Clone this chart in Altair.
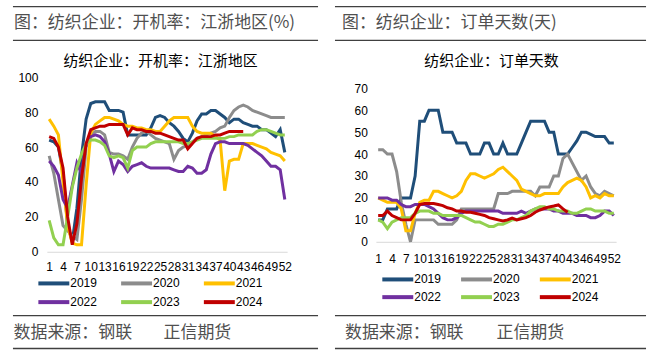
import altair as alt
import pandas as pd

years = ["2019", "2020", "2021", "2022", "2023", "2024"]
colors = ["#1F4E79", "#8C8C8C", "#FFC000", "#7030A0", "#92D050", "#C00000"]
x_tick_values = list(range(1, 53, 3))

# 开机率：江浙地区 (%)
rate_2019 = [64, 63, 60, 45, 15, 6, 25, 55, 76, 85, 86, 86, 86, 81, 81, 81, 80, 67, 67, 67,
             67, 67, 71, 77, 78, 77, 74, 72, 69, 65, 63, 68, 75, 79, 79, 81, 81, 79, 77, 74,
             76, 76, 74, 73, 72, 72, 70, 70, 68, 66, 70, 57]
rate_2020 = [55, 45, 30, 15, 12, 9, 7, 30, 60, 67, 69, 69, 67, 57, 56, 56, 55, 53, 60, 65,
             68, 69, 67, 65, 64, 63, 62, 53, 58, 60, 61, 63, 65, 66, 67, 68, 69, 71, 72, 77,
             81, 83, 84, 83, 81, 80, 79, 78, 77, 77, 77, 77]
rate_2021 = [76, 72, 67, 40, 15, 5, 4, 4, 38, 68, 73, 75, 77, 77, 76, 75, 73, 72, 72, 71,
             71, 70, 70, 69, 69, 72, 75, 77, 77, 77, 77, 72, 69, 68, 68, 68, 66, 64, 35, 52,
             53, 53, 62, 62, 62, 61, 60, 59, 57, 56, 55, 52]
rate_2022 = [52, 49, 44, 30, 25, 38, 51, 45, 62, 66, 67, 66, 63, 56, 46, 52, 50, 46, 49, 50,
             51, 49, 48, 48, 48, 48, 48, 47, 46, 46, 49, 48, 45, 45, 47, 56, 62, 63, 63, 62,
             62, 62, 62, 61, 59, 57, 55, 52, 49, 49, 47, 30]
rate_2023 = [18, 8, 4, 4, 20, 37, 48, 56, 62, 64, 64, 63, 61, 55, 54, 55, 54, 48, 58, 60,
             60, 60, 62, 63, 63, 63, 63, 63, 63, 62, 62, 63, 64, 65, 65, 65, 65, 65, 65, 66,
             66, 67, 67, 67, 67, 69, 70, 70, 69, 68, 67, 67]
rate_2024 = [66, 65, 60, 48, 20, 4, 16, 42, 62, 70, 71, 72, 72, 73, 73, 73, 73, 67, 71, 70,
             70, 69, 69, 68, 68, 67, 66, 65, 64, 64, 59, 62, 65, 66, 66, 66, 67, 67, 68, 69,
             69, 69, 69]

# 订单天数 (天)
ord_2019 = [10, 10, 15, 15, 15, 20, 20, 20, 30, 55, 55, 60, 60, 60, 50, 50, 50, 45, 45, 45,
            40, 40, 40, 45, 45, 40, 40, 45, 40, 40, 40, 45, 50, 55, 55, 55, 55, 50, 50, 40,
            40, 40, 43, 46, 50, 50, 49, 48, 48, 48, 45, 45]
ord_2020 = [42, 42, 40, 40, 32, 18, 8, 0, 10, 10, 10, 10, 10, 8, 8, 8, 8, 10, 15, 15,
            15, 15, 15, 15, 15, 15, 22, 22, 22, 23, 23, 23, 23, 23, 21, 25, 25, 25, 30, 30,
            38, 40, 36, 32, 28, 30, 25, 22, 21, 23, 22, 21]
ord_2021 = [20, 19, 18, 18, 18, 15, 5, 5, 13, 18, 19, 19, 23, 23, 22, 21, 20, 21, 23, 28,
            31, 31, 30, 29, 30, 31, 33, 34, 32, 30, 28, 24, 23, 22, 21, 21, 22, 22, 22, 22,
            25, 27, 28, 29, 28, 25, 20, 21, 20, 22, 21, 21]
ord_2022 = [20, 20, 20, 19, 19, 17, 16, 16, 17, 17, 17, 16, 15, 13, 11, 10, 10, 11, 13, 14,
            14, 14, 14, 14, 14, 14, 14, 13, 13, 13, 13, 14, 13, 14, 15, 15, 15, 15, 14, 14,
            13, 13, 13, 12, 12, 12, 11, 11, 12, 14, 14, 12]
ord_2023 = [10, 9, 6, 9, 10, 11, 11, 11, 13, 14, 14, 14, 13, 13, 12, 12, 12, 12, 12, 11,
            10, 9, 9, 8, 7, 7, 8, 8, 9, 10, 10, 11, 12, 14, 15, 16, 16, 15, 15, 14,
            14, 14, 13, 13, 14, 15, 15, 14, 14, 14, 13, 13]
ord_2024 = [12, 12, 14, 12, 11, 10, 10, 10, 13, 17, 17.5, 17.5, 17.5, 17, 16.5, 15.5, 15, 14, 14, 13.5,
            13.5, 13, 12.5, 12, 11, 10.5, 10, 9.5, 10, 10.8, 10, 10.5, 11, 12, 13.5, 14.5, 15.3, 15.9, 16.3, 16.8,
            15, 13.5]

left_title = "纺织企业：开机率：江浙地区"
left_header = "图：纺织企业：开机率：江浙地区(%)"
right_title = "纺织企业：订单天数"
right_header = "图：纺织企业：订单天数(天)"
source_text = "数据来源：钢联"
company_text = "正信期货"

CJK = "Noto Sans CJK SC"
NUM = "Liberation Sans"
one = pd.DataFrame({"k": [0]})


def long_df(series):
    rows = []
    for yr, vals in zip(years, series):
        for i, v in enumerate(vals):
            rows.append({"week": i + 1, "year": yr, "value": v})
    return pd.DataFrame(rows)


def hrule(x1, x2, y):
    return alt.Chart(one).mark_rule(color="#404040", strokeWidth=1.3).encode(
        x=alt.value(x1), x2=alt.value(x2), y=alt.value(y))


def label(s, x, y, size, color, align="left"):
    return alt.Chart(one).mark_text(text=s, align=align, baseline="middle", font=CJK,
                                    fontSize=size, color=color).encode(
        x=alt.value(x), y=alt.value(y))


def panel(df, ox, height, y_domain, y_values, title, header, title_cx, header_x,
          rule_x1, rule_x2, src_x, co_x, legend_x, legend_y, col_pad, row_pad,
          x_pad, y_pad, extra=None):
    oy = 76
    lines = alt.Chart(df).mark_line(strokeWidth=3).encode(
        x=alt.X("week:Q", scale=alt.Scale(domain=[0.5, 52.5], nice=False, zero=False),
                axis=alt.Axis(values=x_tick_values, title=None, grid=False, ticks=False,
                              tickSize=0, domainColor="#D9D9D9", domainWidth=1,
                              labelFont=NUM, labelFontSize=12, labelColor="#000000",
                              labelPadding=x_pad, labelOverlap=False, labelFlush=False,
                              labelAngle=0, format="d")),
        y=alt.Y("value:Q", scale=alt.Scale(domain=y_domain, nice=False, zero=True),
                axis=alt.Axis(values=y_values, title=None, grid=False, ticks=False,
                              tickSize=0, domain=False, labelFont=NUM, labelFontSize=12,
                              labelColor="#000000", labelPadding=y_pad, format="d")),
        color=alt.Color("year:N", scale=alt.Scale(domain=years, range=colors),
                        legend=alt.Legend(orient="none", legendX=legend_x, legendY=legend_y,
                                          direction="horizontal",
                                          columns=3, title=None, symbolType="M-3,0H3",
                                          symbolSize=107, symbolStrokeWidth=4,
                                          symbolOffset=8.5, labelOffset=9,
                                          columnPadding=col_pad, rowPadding=row_pad,
                                          labelFont=NUM, labelFontSize=12,
                                          labelColor="#000000", padding=0, offset=0)),
    )
    layers = []
    if extra is not None:
        layers.append(extra)
    layers += [
        lines,
        hrule(rule_x1 - ox, rule_x2 - ox, 5 - oy),
        hrule(rule_x1 - ox, rule_x2 - ox, 39 - oy),
        hrule(rule_x1 - ox, rule_x2 - ox, 315 - oy),
        hrule(rule_x1 - ox, rule_x2 - ox, 348 - oy),
        label(header, header_x - ox, 22 - oy, 17, "#505050"),
        label(title, title_cx - ox, 60 - oy, 15, "#000000", align="center"),
        label(source_text, src_x - ox, 332 - oy, 17, "#505050"),
        label(company_text, co_x - ox, 332 - oy, 17, "#505050"),
    ]
    return alt.layer(*layers).properties(width=241, height=height)


frame = alt.Chart(one).mark_rect(opacity=0).encode(
    x=alt.value(-46), x2=alt.value(608), y=alt.value(-76), y2=alt.value(278))

left = panel(long_df([rate_2019, rate_2020, rate_2021, rate_2022, rate_2023, rate_2024]),
             46, 175, [0, 100], [0, 20, 40, 60, 80, 100], left_title, left_header,
             160, 13, 12, 318, 12.6, 163, -9, 199, 15, 2, 10, 9, extra=frame)
right = panel(long_df([ord_2019, ord_2020, ord_2021, ord_2022, ord_2023, ord_2024]),
              376, 165, [0, 75], [0, 10, 20, 30, 40, 50, 60, 70], right_title, right_header,
              492, 342, 335, 647, 345, 497, 6, 195, 11, 1, 11.5, 8.5)

chart = alt.hconcat(left, right, spacing=89, bounds="flush", padding=0,
                    background="white").resolve_scale(color="independent").configure_view(
    stroke="transparent")

chart.save("out.html", embed_options={"renderer": "svg", "actions": False})
